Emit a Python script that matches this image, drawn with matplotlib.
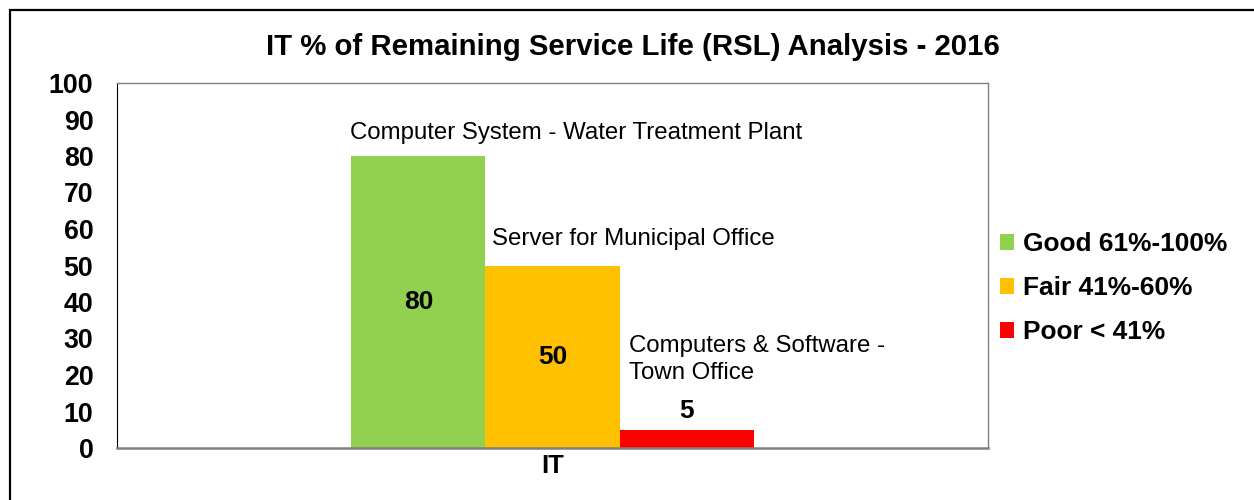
import matplotlib
matplotlib.use("Agg")
import matplotlib.pyplot as plt
from matplotlib.patches import Patch, Rectangle

plt.rcParams["font.family"] = ["Liberation Sans", "DejaVu Sans"]

# Data
category = "IT"
items = ["Computer System - Water Treatment Plant",
         "Server for Municipal Office",
         "Computers & Software -\nTown Office"]
rsl_values = [80, 50, 5]
bar_colors = ["#92D050", "#FFC000", "#FF0000"]
legend_labels = ["Good 61%-100%", "Fair 41%-60%", "Poor < 41%"]
y_ticks = [0, 10, 20, 30, 40, 50, 60, 70, 80, 90, 100]

W, H = 1254, 500
fig = plt.figure(figsize=(W / 100, H / 100), dpi=100)
ax = fig.add_axes([117 / W, 1 - 448 / H, (988 - 117) / W, (448 - 83) / H])

bar_w = 0.154
offsets = [-bar_w, 0.0, bar_w]
for off, val, col in zip(offsets, rsl_values, bar_colors):
    ax.bar(off, val, width=bar_w, color=col, edgecolor="none", zorder=2)

# value labels
label_fs = 19
ax.text(offsets[0], rsl_values[0] / 2, f"{rsl_values[0]}", ha="center", va="center",
        fontsize=label_fs, fontweight="bold")
ax.text(offsets[1], rsl_values[1] / 2, f"{rsl_values[1]}", ha="center", va="center",
        fontsize=label_fs, fontweight="bold")
ax.text(offsets[2], rsl_values[2] + 5.0, f"{rsl_values[2]}", ha="center", va="center",
        fontsize=label_fs, fontweight="bold")

# item names above each bar
name_lift = [6.3, 7.3, 19.3]
name_shift = [-0.002, 0.008, 0.011]
for off, val, name, lift, sh in zip(offsets, rsl_values, items, name_lift, name_shift):
    ax.text(off - bar_w / 2 + sh, val + lift, name, ha="left", va="center",
            fontsize=17.3, linespacing=1.28)

ax.set_xlim(-0.5, 0.5)
ax.set_ylim(0, 100)
ax.set_yticks(y_ticks)
ax.set_yticklabels([str(t) for t in y_ticks], fontsize=19.3, fontweight="bold")
ax.set_xticks([0])
ax.set_xticklabels([category], fontsize=18.5, fontweight="bold")
ax.tick_params(axis="y", length=0, pad=17)
ax.tick_params(axis="x", length=0, pad=4)

for s in ["top", "right"]:
    ax.spines[s].set_color("#808080")
    ax.spines[s].set_linewidth(1.0)
ax.spines["left"].set_color("#000000")
ax.spines["left"].set_linewidth(0.8)
ax.spines["bottom"].set_color("#808080")
ax.spines["bottom"].set_linewidth(1.8)

fig.text(633 / W, 1 - 47 / H, "IT % of Remaining Service Life (RSL) Analysis - 2016",
         ha="center", va="center", fontsize=21.2, fontweight="bold")

handles = [Patch(facecolor=c, edgecolor="none") for c in bar_colors]
fig.legend(handles, legend_labels, loc="center left",
           bbox_to_anchor=(1000 / W, 1 - 288 / H), frameon=False,
           borderpad=0, borderaxespad=0, handlelength=0.55, handleheight=0.55,
           handletextpad=0.33, labelspacing=0.76,
           prop={"size": 18.9, "weight": "bold"})

# outer frame
fig.patches.append(Rectangle((9.5 / W, -0.1), 1.2, 1 - 9.5 / H + 0.1,
                             transform=fig.transFigure, fill=False,
                             edgecolor="black", linewidth=1.6))

fig.savefig("out.png", dpi=100)
